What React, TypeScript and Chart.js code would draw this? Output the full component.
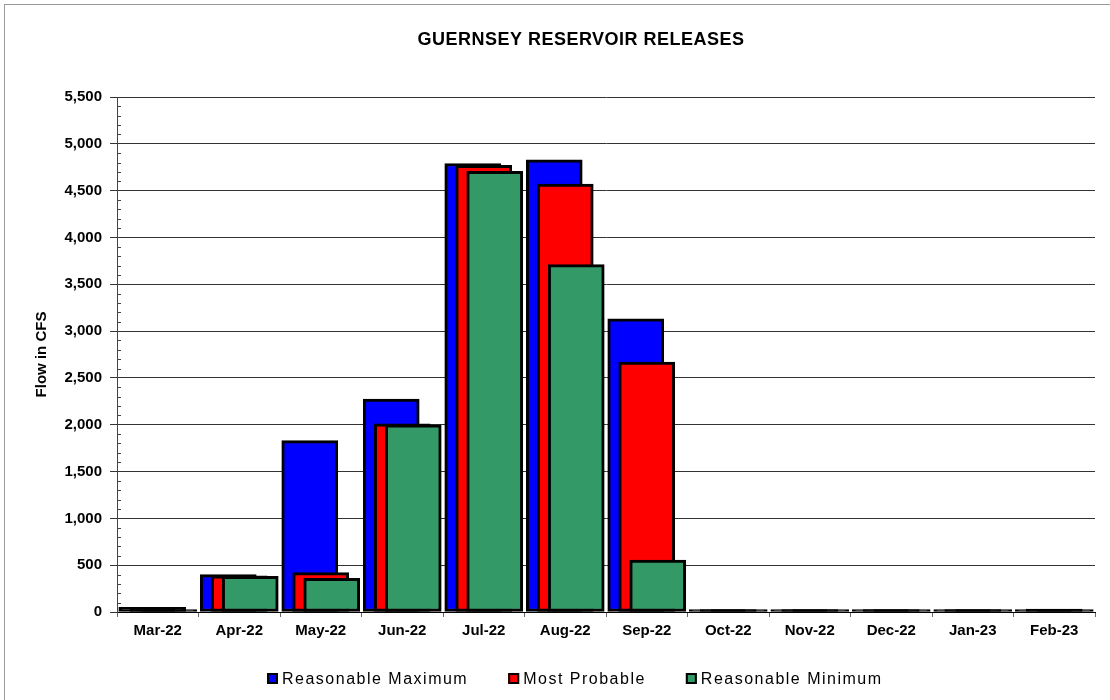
import React, { useEffect, useRef } from 'react';
import { Chart, registerables } from 'chart.js';

Chart.register(...registerables);

const months = ['Mar-22', 'Apr-22', 'May-22', 'Jun-22', 'Jul-22', 'Aug-22', 'Sep-22', 'Oct-22', 'Nov-22', 'Dec-22', 'Jan-23', 'Feb-23'];
const reasonableMaximum = [50, 400, 1830, 2275, 4790, 4830, 3130, 5, 5, 5, 5, 15];
const mostProbable = [50, 385, 420, 2010, 4770, 4570, 2670, 5, 5, 5, 5, 30];
const reasonableMinimum = [20, 380, 360, 2000, 4705, 3710, 555, 5, 5, 5, 5, 15];

const seriesNames = ['Reasonable Maximum', 'Most Probable', 'Reasonable Minimum'];
const seriesColors = ['#0000FF', '#FF0000', '#339966'];
const chartTitle = 'GUERNSEY RESERVOIR RELEASES';
const yAxisTitle = 'Flow in CFS';
const yMax = 5500;
const yStep = 500;
const yMinorStep = 100;

const FONT = '"Liberation Sans", Arial, Helvetica, sans-serif';
const BAR_SHIFT = 0.135;
const TINY_BAR_PX = 6;

export default function App() {
  const ref = useRef<HTMLCanvasElement | null>(null);

  useEffect(() => {
    const canvas = ref.current;
    if (!canvas) return;
    const series = [reasonableMaximum, mostProbable, reasonableMinimum];
    const shifts = [-BAR_SHIFT, 0, BAR_SHIFT];

    const decor = {
      id: 'decor',
      beforeDraw(chart: any) {
        const ctx = chart.ctx;
        ctx.save();
        ctx.fillStyle = '#ffffff';
        ctx.fillRect(0, 0, chart.width, chart.height);
        ctx.strokeStyle = '#9a9a9a';
        ctx.lineWidth = 1;
        ctx.strokeRect(4.5, 4.5, chart.width + 20, chart.height + 20);
        ctx.restore();
      },
      afterDraw(chart: any) {
        const ctx = chart.ctx;
        const ys = chart.scales.y;
        const left = chart.chartArea.left;
        ctx.save();
        // minor ticks
        ctx.strokeStyle = '#444';
        ctx.lineWidth = 1;
        ctx.beginPath();
        for (let v = yMinorStep; v < yMax; v += yMinorStep) {
          if (v % yStep === 0) continue;
          const py = Math.round(ys.getPixelForValue(v)) + 0.5;
          ctx.moveTo(left, py);
          ctx.lineTo(left + 4, py);
        }
        ctx.stroke();

        // title
        ctx.fillStyle = '#000';
        ctx.font = `bold 18px ${FONT}`;
        (ctx as any).letterSpacing = '0.5px';
        ctx.textAlign = 'center';
        ctx.textBaseline = 'alphabetic';
        ctx.fillText(chartTitle, 581, 45);

        // legend
        ctx.font = `16px ${FONT}`;
        (ctx as any).letterSpacing = '1.5px';
        ctx.textAlign = 'left';
        const box = 11;
        const gapBox = 4;
        const gapItem = 40;
        const widths = seriesNames.map((n) => ctx.measureText(n).width);
        const total = widths.reduce((a, w) => a + box + gapBox + w, 0) + gapItem * (seriesNames.length - 1);
        let x = Math.round(575 - total / 2);
        const boxTop = 673;
        for (let k = 0; k < seriesNames.length; k++) {
          ctx.fillStyle = seriesColors[k];
          ctx.fillRect(x, boxTop, box, box);
          ctx.strokeStyle = '#000';
          ctx.lineWidth = 2;
          ctx.strokeRect(x + 1, boxTop + 1, box - 2, box - 2);
          ctx.fillStyle = '#000';
          ctx.fillText(seriesNames[k], x + box + gapBox, 684);
          x += box + gapBox + widths[k] + gapItem;
        }
        (ctx as any).letterSpacing = '0px';
        ctx.restore();
      },
    };

    const chart = new Chart(canvas, {
      type: 'bar',
      data: {
        labels: months,
        datasets: series.map((vals, k) => ({
          label: seriesNames[k],
          data: vals.map((v, i) => ({ x: i + shifts[k], y: v })),
          xAxisID: 'xb',
          yAxisID: 'y',
          backgroundColor: (c: any) => {
            const ys = c.chart && c.chart.scales && c.chart.scales.y;
            const v = c.raw && typeof c.raw.y === 'number' ? c.raw.y : null;
            if (ys && v !== null && Math.abs(ys.getPixelForValue(v) - ys.getPixelForValue(0)) < TINY_BAR_PX) {
              return '#000000';
            }
            return seriesColors[k];
          },
          borderColor: '#000000',
          borderWidth: 3,
          borderSkipped: false,
          barThickness: 56,
          minBarLength: 2.5,
          grouped: false,
          order: 3 - k,
        })),
      } as any,
      options: {
        responsive: false,
        animation: false,
        layout: { padding: { left: 0, right: 15, top: 97, bottom: 58 } },
        plugins: {
          legend: { display: false },
          title: { display: false },
          tooltip: { enabled: false },
        },
        scales: {
          x: {
            type: 'category',
            position: 'bottom',
            offset: true,
            grid: { display: true, drawOnChartArea: false, offset: true, tickLength: 5, color: '#666' },
            border: { color: '#000' },
            ticks: {
              color: '#000',
              font: { family: FONT, size: 15, weight: 'bold' },
              padding: 5,
              maxRotation: 0,
              autoSkip: false,
            },
            afterFit: (s: any) => {
              s.height = 30;
            },
          },
          xb: {
            type: 'linear',
            display: false,
            offset: false,
            bounds: 'ticks',
            min: -0.5,
            max: 11.5,
            grid: { offset: false },
          },
          y: {
            min: 0,
            max: yMax,
            ticks: {
              stepSize: yStep,
              color: '#000',
              font: { family: FONT, size: 15, weight: 'bold' },
              padding: 8,
              callback: (v: any) => Number(v).toLocaleString('en-US'),
            },
            grid: { color: '#333', tickLength: 7 },
            border: { color: '#444' },
            title: {
              display: true,
              text: yAxisTitle,
              color: '#000',
              font: { family: FONT, size: 15, weight: 'bold' },
              padding: { top: 33, bottom: 0 },
            },
            afterFit: (s: any) => {
              s.width = 117;
            },
          },
        },
      } as any,
      plugins: [decor],
    });
    return () => chart.destroy();
  }, []);

  return (
    <div style={{ position: 'absolute', left: 0, top: 0, width: 1110, height: 700, background: '#fff' }}>
      <canvas ref={ref} width={1110} height={700} style={{ display: 'block' }} />
    </div>
  );
}
